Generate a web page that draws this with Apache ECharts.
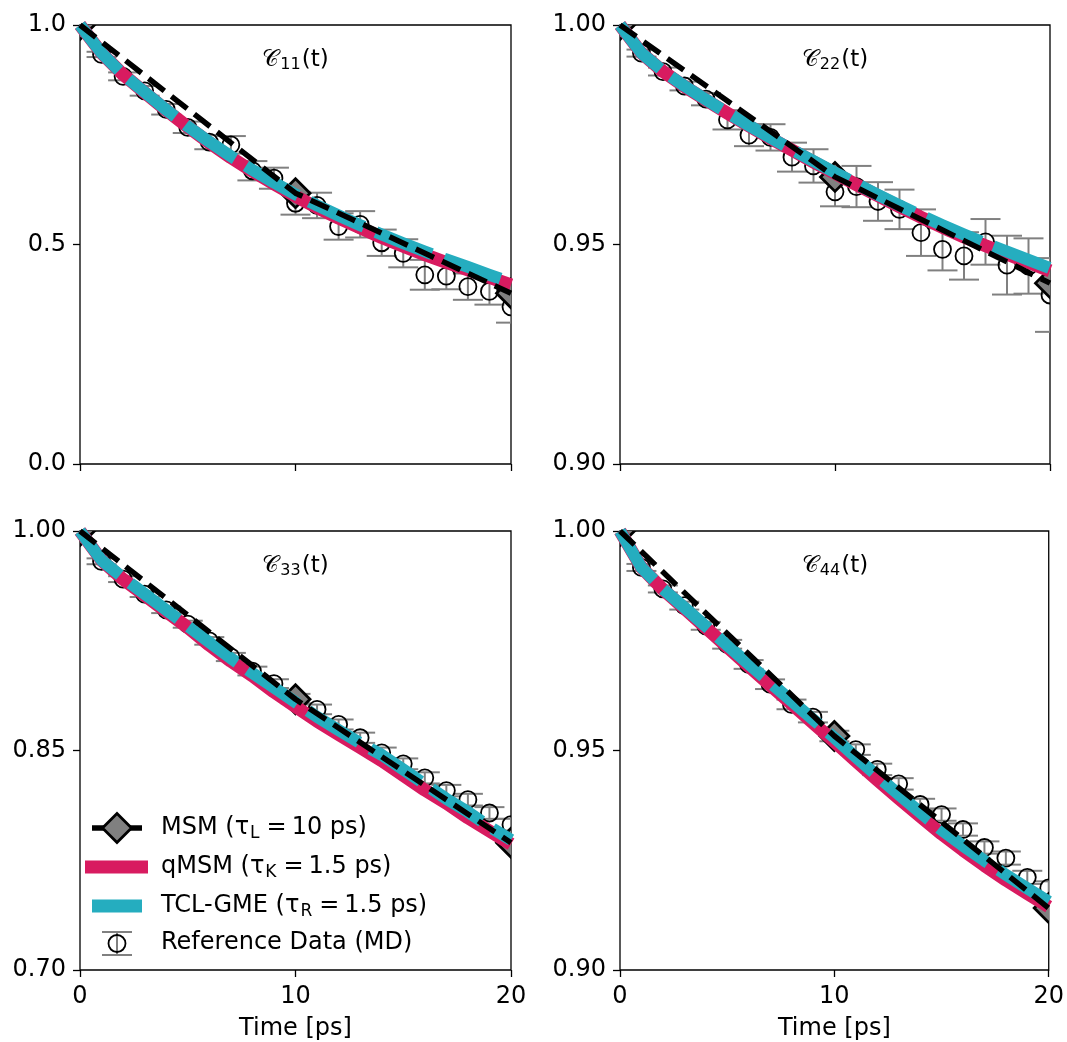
<!DOCTYPE html>
<html>
<head>
<meta charset="utf-8">
<script src="https://cdn.jsdelivr.net/npm/echarts@6/dist/echarts.min.js"></script>
<style>
  html, body { margin: 0; padding: 0; background: #fff; }
  #chart { width: 1067px; height: 1042px; }
</style>
</head>
<body>
<div id="chart"></div>
<script>
// time grids
const lineTimes = [0, 1, 2, 3, 4, 5, 6, 7, 8, 9, 10, 11, 12, 13, 14, 15, 16, 17, 18, 19, 20];
const refTimes = [1, 2, 3, 4, 5, 6, 7, 8, 9, 10, 11, 12, 13, 14, 15, 16, 17, 18, 19, 20];
const msmTimes = [0, 10, 20];

// C11
const c11Msm = [1.0, 0.617, 0.389];
const c11Qmsm = [1.000, 0.936, 0.887, 0.846, 0.806, 0.768, 0.732, 0.698, 0.667, 0.638, 0.610, 0.584, 0.560, 0.538, 0.516, 0.496, 0.477, 0.459, 0.442, 0.425, 0.408];
const c11Tcl = [1.000, 0.936, 0.887, 0.847, 0.807, 0.769, 0.734, 0.701, 0.670, 0.641, 0.614, 0.589, 0.566, 0.544, 0.523, 0.503, 0.484, 0.466, 0.449, 0.431, 0.414];
const c11Ref = [0.933, 0.883, 0.850, 0.808, 0.767, 0.733, 0.727, 0.668, 0.651, 0.594, 0.589, 0.541, 0.546, 0.504, 0.480, 0.431, 0.428, 0.404, 0.393, 0.358];
const c11Err = [0.006, 0.009, 0.011, 0.012, 0.013, 0.016, 0.020, 0.022, 0.024, 0.026, 0.029, 0.030, 0.030, 0.030, 0.032, 0.034, 0.030, 0.030, 0.030, 0.036];

// C22
const c22Msm = [1.0, 0.9654, 0.9412];
const c22Qmsm = [1.0, 0.9936, 0.9894, 0.9860, 0.9829, 0.9799, 0.9770, 0.9742, 0.9715, 0.9688, 0.9662, 0.9636, 0.9611, 0.9586, 0.9562, 0.9539, 0.9517, 0.9497, 0.9478, 0.9459, 0.9440];
const c22Tcl = [1.0, 0.9936, 0.9895, 0.9861, 0.9830, 0.9800, 0.9771, 0.9743, 0.9716, 0.9690, 0.9664, 0.9638, 0.9613, 0.9589, 0.9566, 0.9544, 0.9523, 0.9503, 0.9484, 0.9465, 0.9446];
const c22Ref = [0.9936, 0.9894, 0.9861, 0.9831, 0.9784, 0.9749, 0.9744, 0.9699, 0.9679, 0.9620, 0.9632, 0.9598, 0.9580, 0.9527, 0.9489, 0.9474, 0.9506, 0.9453, 0.9451, 0.9385];
const c22Err = [0.0008, 0.0009, 0.0010, 0.0014, 0.0022, 0.0025, 0.0030, 0.0033, 0.0038, 0.0033, 0.0047, 0.0044, 0.0045, 0.0053, 0.0048, 0.0054, 0.0052, 0.0067, 0.0063, 0.0084];

// C33
const c33Msm = [1.0, 0.885, 0.787];
const c33Qmsm = [1.0, 0.980, 0.967, 0.956, 0.945, 0.934, 0.922, 0.911, 0.901, 0.890, 0.880, 0.870, 0.861, 0.852, 0.843, 0.833, 0.823, 0.814, 0.804, 0.795, 0.786];
const c33Tcl = [1.0, 0.980, 0.968, 0.957, 0.946, 0.935, 0.924, 0.913, 0.903, 0.893, 0.883, 0.873, 0.864, 0.855, 0.847, 0.837, 0.827, 0.817, 0.808, 0.798, 0.789];
const c33Ref = [0.9793, 0.9671, 0.9569, 0.9461, 0.9363, 0.9249, 0.9139, 0.9043, 0.8957, 0.8855, 0.8781, 0.8678, 0.8587, 0.8484, 0.8409, 0.8313, 0.8226, 0.8164, 0.8073, 0.7993];
const c33Err = [0.002, 0.002, 0.002, 0.0022, 0.0024, 0.0026, 0.0028, 0.003, 0.003, 0.0032, 0.0033, 0.0034, 0.0035, 0.0036, 0.0037, 0.0038, 0.0039, 0.004, 0.004, 0.004];

// C44
const c44Msm = [1.0, 0.9533, 0.9141];
const c44Qmsm = [1.0, 0.9917, 0.9867, 0.9824, 0.9780, 0.9736, 0.9692, 0.9649, 0.9606, 0.9563, 0.9520, 0.9476, 0.9433, 0.9391, 0.9350, 0.9310, 0.9273, 0.9238, 0.9205, 0.9174, 0.9144];
const c44Tcl = [1.0, 0.9917, 0.9868, 0.9826, 0.9783, 0.9740, 0.9697, 0.9655, 0.9613, 0.9571, 0.9529, 0.9485, 0.9442, 0.9400, 0.9359, 0.9319, 0.9283, 0.9249, 0.9217, 0.9186, 0.9156];
const c44Ref = [0.9917, 0.9868, 0.9830, 0.9784, 0.9742, 0.9696, 0.9651, 0.9605, 0.9576, 0.9533, 0.9502, 0.9457, 0.9424, 0.9377, 0.9354, 0.9320, 0.9279, 0.9255, 0.9211, 0.9187];
const c44Err = [0.0008, 0.0008, 0.0009, 0.0009, 0.001, 0.001, 0.0011, 0.0011, 0.0012, 0.0012, 0.0012, 0.0013, 0.0013, 0.0013, 0.0014, 0.0014, 0.0014, 0.0015, 0.0015, 0.0015];

const panels = [
  { sub: '11', yMin: 0, yMax: 1, yStep: 0.5, digits: 1, msm: c11Msm, qmsm: c11Qmsm, tcl: c11Tcl, ref: c11Ref, err: c11Err },
  { sub: '22', yMin: 0.9, yMax: 1, yStep: 0.05, digits: 2, msm: c22Msm, qmsm: c22Qmsm, tcl: c22Tcl, ref: c22Ref, err: c22Err },
  { sub: '33', yMin: 0.7, yMax: 1, yStep: 0.15, digits: 2, msm: c33Msm, qmsm: c33Qmsm, tcl: c33Tcl, ref: c33Ref, err: c33Err },
  { sub: '44', yMin: 0.9, yMax: 1, yStep: 0.05, digits: 2, msm: c44Msm, qmsm: c44Qmsm, tcl: c44Tcl, ref: c44Ref, err: c44Err },
];

const QMSM_COLOR = '#d81b60';
const TCL_COLOR = '#25adbf';
const ERR_COLOR = '#808080';
const FONT = 'DejaVu Sans';

const gridBoxes = [
  { left: 80, top: 25, width: 431, height: 439 },
  { left: 620, top: 25, width: 430, height: 439 },
  { left: 80, top: 531, width: 431, height: 439 },
  { left: 620, top: 531, width: 430, height: 439 },
];

const zip = (xs, ys) => xs.map((x, i) => [x, ys[i]]);

const errorBarItem = (params, api) => {
  const x = api.value(0), y = api.value(1), e = api.value(2);
  const c = api.coord([x, y]);
  const top = api.coord([x, y + e])[1];
  const bot = api.coord([x, y - e])[1];
  const st = { stroke: ERR_COLOR, lineWidth: 2 };
  return {
    type: 'group',
    children: [
      { type: 'line', shape: { x1: c[0], y1: top, x2: c[0], y2: bot }, style: st },
      { type: 'line', shape: { x1: c[0] - 15, y1: top, x2: c[0] + 15, y2: top }, style: st },
      { type: 'line', shape: { x1: c[0] - 15, y1: bot, x2: c[0] + 15, y2: bot }, style: st },
    ],
  };
};

const circleItem = (params, api) => {
  const c = api.coord([api.value(0), api.value(1)]);
  return { type: 'circle', shape: { cx: c[0], cy: c[1], r: 8.5 }, style: { fill: 'none', stroke: '#000', lineWidth: 1.8 } };
};

const diamondItem = (params, api) => {
  const c = api.coord([api.value(0), api.value(1)]);
  const h = 14.5;
  return {
    type: 'polygon',
    shape: { points: [[c[0], c[1] - h], [c[0] + h, c[1]], [c[0], c[1] + h], [c[0] - h, c[1]]] },
    style: { fill: '#808080', stroke: '#000', lineWidth: 2.8 },
  };
};

const grids = [], xAxes = [], yAxes = [], series = [], graphics = [];

panels.forEach((p, i) => {
  const box = gridBoxes[i];
  const bottomRow = i >= 2;
  grids.push({ ...box, show: true, borderColor: '#000', borderWidth: 1.3, backgroundColor: 'transparent' });
  xAxes.push({
    gridIndex: i, type: 'value', min: 0, max: 20, interval: 10,
    name: bottomRow ? 'Time [ps]' : '', nameLocation: 'middle', nameGap: 47,
    nameTextStyle: { fontFamily: FONT, fontSize: 24, color: '#000' },
    axisLine: { show: false },
    axisTick: { show: true, length: 7, lineStyle: { color: '#000', width: 1.3 } },
    axisLabel: { show: bottomRow, fontFamily: FONT, fontSize: 24, color: '#000', margin: 15 },
    splitLine: { show: false },
  });
  yAxes.push({
    gridIndex: i, type: 'value', min: p.yMin, max: p.yMax, interval: p.yStep,
    axisLine: { show: false },
    axisTick: { show: true, length: 7, lineStyle: { color: '#000', width: 1.3 } },
    axisLabel: { fontFamily: FONT, fontSize: 24, color: '#000', margin: 14, formatter: v => v.toFixed(p.digits) },
    splitLine: { show: false },
  });

  const axisRef = { xAxisIndex: i, yAxisIndex: i };
  series.push(
    {
      ...axisRef, name: 'qMSM', type: 'line', data: zip(lineTimes, p.qmsm), symbol: 'none', clip: true,
      lineStyle: { color: QMSM_COLOR, width: 13, join: 'round' }, animation: false,
    },
    {
      ...axisRef, name: 'TCL-GME', type: 'line', data: zip(lineTimes, p.tcl), symbol: 'none', clip: true,
      lineStyle: { color: TCL_COLOR, width: 12, type: [60, 13], cap: 'butt', join: 'round' }, animation: false,
    },
    {
      ...axisRef, name: 'err', type: 'custom', clip: true, renderItem: errorBarItem,
      data: refTimes.map((t, k) => [t, p.ref[k], p.err[k]]), encode: { x: 0, y: 1 }, animation: false,
    },
    {
      ...axisRef, name: 'Reference', type: 'custom', clip: true, renderItem: circleItem,
      data: zip(refTimes, p.ref), encode: { x: 0, y: 1 }, animation: false,
    },
    {
      ...axisRef, name: 'MSM', type: 'line', data: zip(msmTimes, p.msm), symbol: 'none', clip: true,
      lineStyle: { color: '#000', width: 5.5, type: [20, 9], cap: 'butt' }, animation: false,
    },
    {
      ...axisRef, name: 'MSM pts', type: 'custom', clip: true, renderItem: diamondItem,
      data: zip(msmTimes, p.msm), encode: { x: 0, y: 1 }, animation: false,
    }
  );

  graphics.push({
    type: 'text', x: box.left + box.width / 2, y: box.top + 35, z: 100,
    style: {
      text: '{c|𝒞}{s|' + p.sub + '}{n|(t)}',
      align: 'center', verticalAlign: 'middle',
      rich: {
        c: { fontFamily: FONT, fontSize: 23, fill: '#000', lineHeight: 28 },
        s: { fontFamily: FONT, fontSize: 16, fill: '#000', lineHeight: 28, padding: [10, 1, 0, 1] },
        n: { fontFamily: FONT, fontSize: 23, fill: '#000', lineHeight: 28 },
      },
    },
  });
});

// legend drawn in the lower-left panel
const legendTextStyle = (text, y) => ({
  type: 'text', x: 161, y, z: 100,
  style: {
    text, verticalAlign: 'middle',
    rich: {
      t: { fontFamily: FONT, fontSize: 24, fill: '#000', lineHeight: 30 },
      s: { fontFamily: FONT, fontSize: 17, fill: '#000', lineHeight: 30, padding: [11, 0, 0, 1] },
      e: { fontFamily: FONT, fontSize: 24, fill: '#000', lineHeight: 30, padding: [0, 5, 0, 7] },
    },
  },
});

graphics.push(
  { type: 'line', z: 100, shape: { x1: 92, y1: 828, x2: 142, y2: 828 }, style: { stroke: '#000', lineWidth: 5.5 } },
  { type: 'polygon', z: 101, shape: { points: [[117, 813.5], [131.5, 828], [117, 842.5], [102.5, 828]] }, style: { fill: '#808080', stroke: '#000', lineWidth: 2.8 } },
  legendTextStyle('{t|MSM (τ}{s|L}{e|=}{t|10 ps)}', 828),
  { type: 'line', z: 100, shape: { x1: 85, y1: 867, x2: 148, y2: 867 }, style: { stroke: QMSM_COLOR, lineWidth: 13 } },
  legendTextStyle('{t|qMSM (τ}{s|K}{e|=}{t|1.5 ps)}', 867),
  { type: 'line', z: 100, shape: { x1: 92, y1: 906, x2: 142, y2: 906 }, style: { stroke: TCL_COLOR, lineWidth: 13 } },
  legendTextStyle('{t|TCL-GME (τ}{s|R}{e|=}{t|1.5 ps)}', 906),
  { type: 'line', z: 100, shape: { x1: 117, y1: 932, x2: 117, y2: 955 }, style: { stroke: ERR_COLOR, lineWidth: 2 } },
  { type: 'line', z: 100, shape: { x1: 102, y1: 932, x2: 132, y2: 932 }, style: { stroke: ERR_COLOR, lineWidth: 2 } },
  { type: 'line', z: 100, shape: { x1: 102, y1: 955, x2: 132, y2: 955 }, style: { stroke: ERR_COLOR, lineWidth: 2 } },
  { type: 'circle', z: 101, shape: { cx: 117, cy: 943.5, r: 8.5 }, style: { fill: 'none', stroke: '#000', lineWidth: 1.8 } },
  legendTextStyle('{t|Reference Data (MD)}', 943)
);

const chart = echarts.init(document.getElementById('chart'), null, { renderer: 'canvas' });
chart.setOption({
  animation: false,
  backgroundColor: '#fff',
  grid: grids,
  xAxis: xAxes,
  yAxis: yAxes,
  series,
  graphic: graphics,
});
</script>
</body>
</html>
